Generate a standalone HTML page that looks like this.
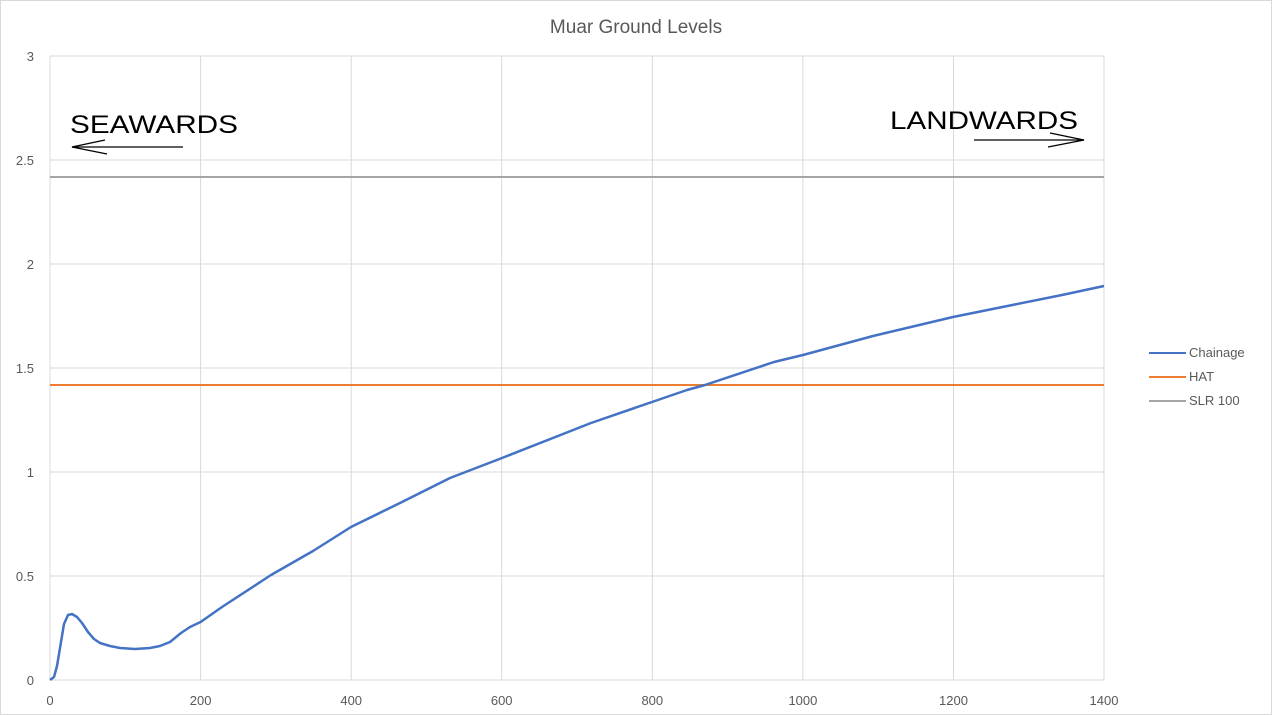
<!DOCTYPE html>
<html><head><style>body{margin:0;background:#fff}svg{display:block}</style></head><body>
<svg width="1272" height="715" xmlns="http://www.w3.org/2000/svg" font-family="Liberation Sans, sans-serif">
<rect x="0.5" y="0.5" width="1271" height="714" fill="#fff" stroke="#d9d9d9"/>
<text x="636" y="33" text-anchor="middle" font-size="19" fill="#595959">Muar Ground Levels</text>
<g stroke="#d9d9d9" stroke-width="1">
<line x1="50" y1="56" x2="1104" y2="56"/><line x1="50" y1="160" x2="1104" y2="160"/>
<line x1="50" y1="264" x2="1104" y2="264"/><line x1="50" y1="368" x2="1104" y2="368"/>
<line x1="50" y1="472" x2="1104" y2="472"/><line x1="50" y1="576" x2="1104" y2="576"/>
<line x1="50" y1="680" x2="1104" y2="680"/>
<line x1="50" y1="56" x2="50" y2="680"/><line x1="200.6" y1="56" x2="200.6" y2="680"/>
<line x1="351.2" y1="56" x2="351.2" y2="680"/><line x1="501.7" y1="56" x2="501.7" y2="680"/>
<line x1="652.3" y1="56" x2="652.3" y2="680"/><line x1="802.9" y1="56" x2="802.9" y2="680"/>
<line x1="953.5" y1="56" x2="953.5" y2="680"/><line x1="1104" y1="56" x2="1104" y2="680"/>
</g>
<g font-size="13" fill="#595959" text-anchor="end">
<text x="34" y="61">3</text><text x="34" y="165">2.5</text><text x="34" y="269">2</text>
<text x="34" y="373">1.5</text><text x="34" y="477">1</text><text x="34" y="581">0.5</text><text x="34" y="685">0</text>
</g>
<g font-size="13" fill="#595959" text-anchor="middle">
<text x="50" y="705">0</text><text x="200.6" y="705">200</text><text x="351.2" y="705">400</text>
<text x="501.7" y="705">600</text><text x="652.3" y="705">800</text><text x="802.9" y="705">1000</text>
<text x="953.5" y="705">1200</text><text x="1104" y="705">1400</text>
</g>
<line x1="50" y1="177" x2="1104" y2="177" stroke="#a5a5a5" stroke-width="2"/>
<line x1="50" y1="385" x2="1104" y2="385" stroke="#ed7d31" stroke-width="2"/>
<polyline fill="none" stroke="#4472c4" stroke-width="2.5" stroke-linejoin="round"
points="50,680 54,677 57,666 60,648 64,624 68,615 72,614 77,617 82,623 88,632 94,639 100,643 110,646 120,648 135,649 150,648 160,646 170,642 181,633 190,627 200.6,622 222,607 271,575 313,551 351,527 402,502 450,478 502,458 591,423 652,402 687,390 705,385 774,362 803,355 873,336 953,317 1062,295 1104,286"/>
<text x="70" y="133" font-size="25" fill="#000" textLength="168" lengthAdjust="spacingAndGlyphs">SEAWARDS</text>
<line x1="72" y1="147" x2="183" y2="147" stroke="#000" stroke-width="1.3"/>
<polyline points="105,140 72,147 107,154" fill="none" stroke="#000" stroke-width="1.3"/>
<text x="890" y="129" font-size="25" fill="#000" textLength="188" lengthAdjust="spacingAndGlyphs">LANDWARDS</text>
<line x1="974" y1="140" x2="1084" y2="140" stroke="#000" stroke-width="1.3"/>
<polyline points="1050,133 1084,140 1048,147" fill="none" stroke="#000" stroke-width="1.3"/>
<g font-size="13" fill="#595959">
<line x1="1149" y1="353" x2="1186" y2="353" stroke="#4472c4" stroke-width="2"/><text x="1189" y="357">Chainage</text>
<line x1="1149" y1="377" x2="1186" y2="377" stroke="#ed7d31" stroke-width="2"/><text x="1189" y="381">HAT</text>
<line x1="1149" y1="401" x2="1186" y2="401" stroke="#a5a5a5" stroke-width="2"/><text x="1189" y="405">SLR 100</text>
</g>
</svg>
</body></html>
